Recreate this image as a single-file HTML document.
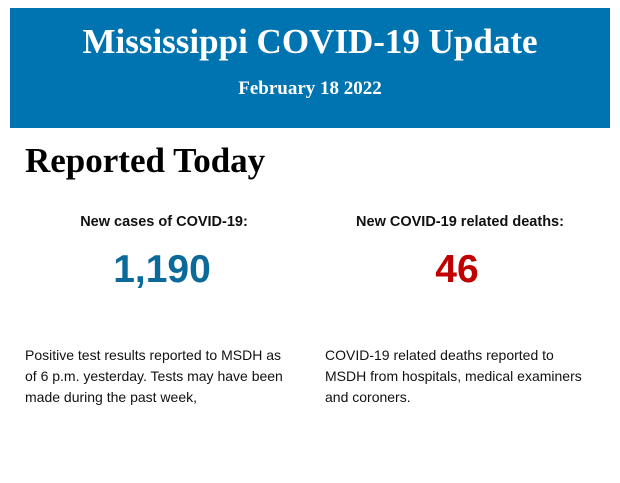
<!DOCTYPE html>
<html><head><style>
body{margin:0;width:620px;height:483px;background:#fff;position:relative;overflow:hidden;font-family:"Liberation Sans",Arial,sans-serif}
.hdr{position:absolute;left:10px;top:8px;width:600px;height:120px;background:#0074b0;color:#fff;text-align:center;font-family:"Liberation Serif",serif;font-weight:bold}
.t{position:absolute;left:0;right:0;top:14px;font-size:35px;line-height:40px}
.d{position:absolute;left:0;right:0;top:70px;font-size:19px;line-height:22px}
.rt{position:absolute;left:25px;top:142px;font-family:"Liberation Serif",serif;font-weight:bold;font-size:35px;line-height:38px;color:#000}
.lab{position:absolute;top:214px;width:300px;text-align:center;font-weight:bold;font-size:14.5px;color:#111}
.num{position:absolute;top:248px;width:300px;text-align:center;font-weight:bold;font-size:39px;line-height:44px}
.p{position:absolute;top:345px;font-size:14px;line-height:21px;color:#111;white-space:nowrap}
</style></head><body>
<div class="hdr"><div class="t">Mississippi COVID-19 Update</div><div class="d">February 18 2022</div></div>
<div class="rt">Reported Today</div>
<div class="lab" style="left:14px">New cases of COVID-19:</div>
<div class="lab" style="left:310px">New COVID-19 related deaths:</div>
<div class="num" style="left:12px;color:#0b6a9a">1,190</div>
<div class="num" style="left:307px;color:#c00000">46</div>
<div class="p" style="left:25px">Positive test results reported to MSDH as<br>of 6 p.m. yesterday. Tests may have been<br>made during the past week,</div>
<div class="p" style="left:325px">COVID-19 related deaths reported to<br>MSDH from hospitals, medical examiners<br>and coroners.</div>
</body></html>
